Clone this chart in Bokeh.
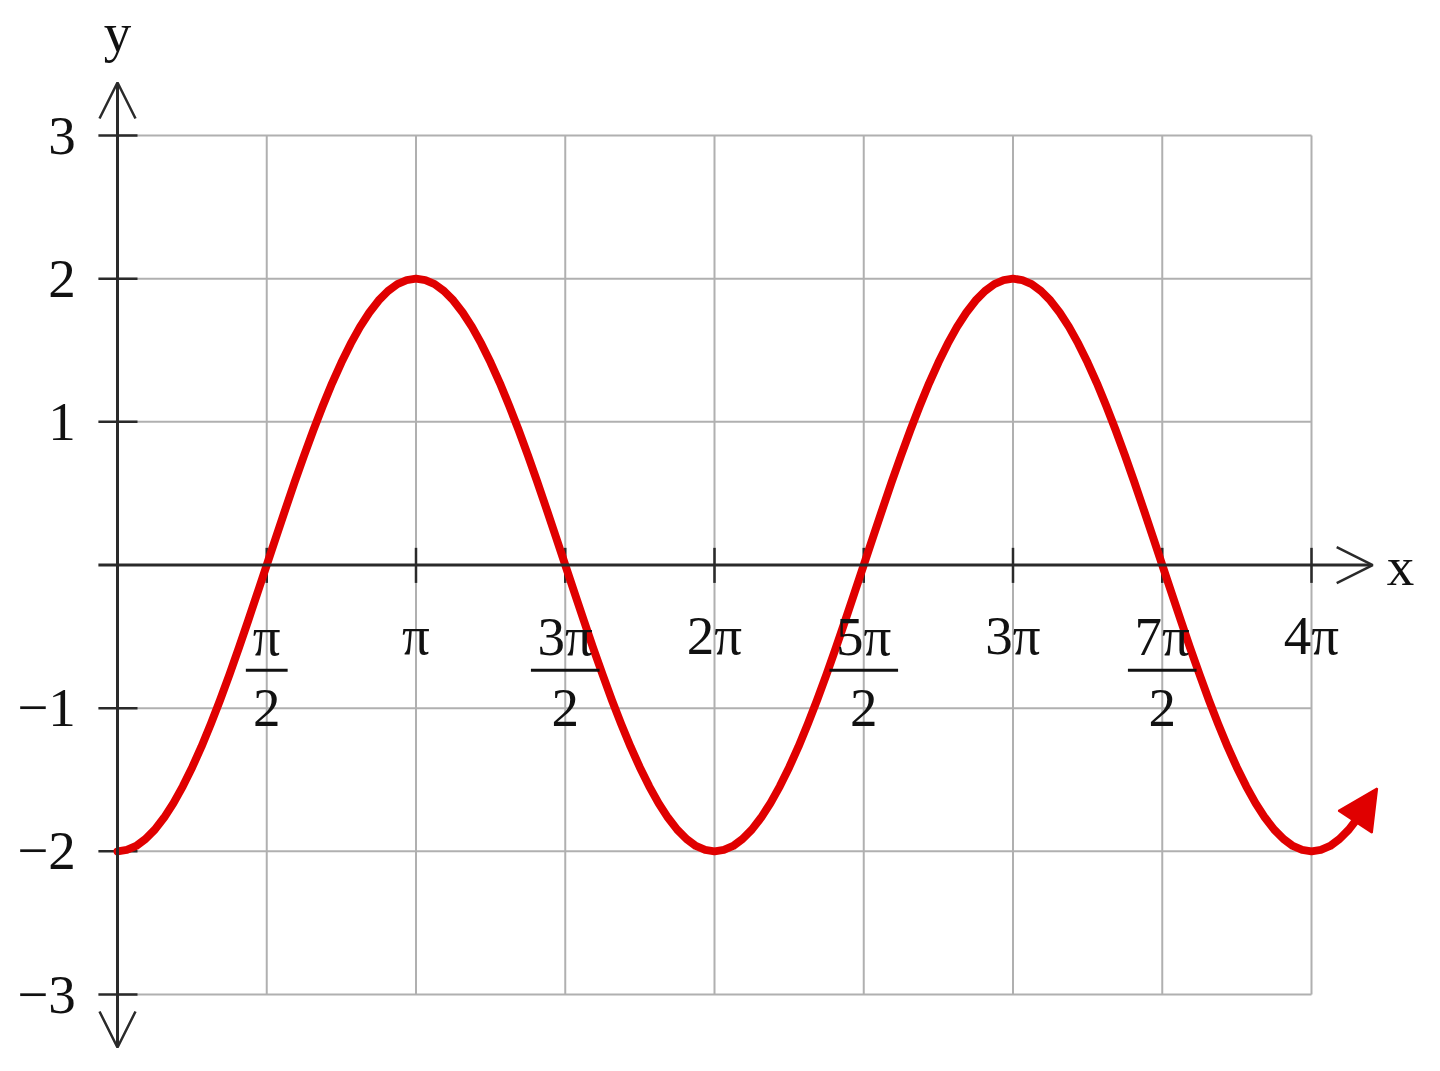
from bokeh.plotting import figure
from bokeh.models import Arrow, NormalHead, OpenHead, Range1d
from bokeh.core.properties import value
from bokeh.embed import file_html
from bokeh.resources import INLINE

# ---- data (x in units of pi), curve y = values ----
curve_x = [
    0, 0.03125, 0.0625, 0.09375, 0.125, 0.15625, 0.1875, 0.21875,
    0.25, 0.28125, 0.3125, 0.34375, 0.375, 0.40625, 0.4375, 0.46875,
    0.5, 0.53125, 0.5625, 0.59375, 0.625, 0.65625, 0.6875, 0.71875,
    0.75, 0.78125, 0.8125, 0.84375, 0.875, 0.90625, 0.9375, 0.96875,
    1.0, 1.03125, 1.0625, 1.09375, 1.125, 1.15625, 1.1875, 1.21875,
    1.25, 1.28125, 1.3125, 1.34375, 1.375, 1.40625, 1.4375, 1.46875,
    1.5, 1.53125, 1.5625, 1.59375, 1.625, 1.65625, 1.6875, 1.71875,
    1.75, 1.78125, 1.8125, 1.84375, 1.875, 1.90625, 1.9375, 1.96875,
    2.0, 2.03125, 2.0625, 2.09375, 2.125, 2.15625, 2.1875, 2.21875,
    2.25, 2.28125, 2.3125, 2.34375, 2.375, 2.40625, 2.4375, 2.46875,
    2.5, 2.53125, 2.5625, 2.59375, 2.625, 2.65625, 2.6875, 2.71875,
    2.75, 2.78125, 2.8125, 2.84375, 2.875, 2.90625, 2.9375, 2.96875,
    3.0, 3.03125, 3.0625, 3.09375, 3.125, 3.15625, 3.1875, 3.21875,
    3.25, 3.28125, 3.3125, 3.34375, 3.375, 3.40625, 3.4375, 3.46875,
    3.5, 3.53125, 3.5625, 3.59375, 3.625, 3.65625, 3.6875, 3.71875,
    3.75, 3.78125, 3.8125, 3.84375, 3.875, 3.90625, 3.9375, 3.96875,
    4.0, 4.03125, 4.0625, 4.09375, 4.125, 4.15625, 4.1875,
]
curve_y = [
    -2, -1.990, -1.962, -1.914, -1.848, -1.764, -1.663, -1.546,
    -1.414, -1.269, -1.111, -0.943, -0.765, -0.581, -0.390, -0.196,
    0, 0.196, 0.390, 0.581, 0.765, 0.943, 1.111, 1.269,
    1.414, 1.546, 1.663, 1.764, 1.848, 1.914, 1.962, 1.990,
    2, 1.990, 1.962, 1.914, 1.848, 1.764, 1.663, 1.546,
    1.414, 1.269, 1.111, 0.943, 0.765, 0.581, 0.390, 0.196,
    0, -0.196, -0.390, -0.581, -0.765, -0.943, -1.111, -1.269,
    -1.414, -1.546, -1.663, -1.764, -1.848, -1.914, -1.962, -1.990,
    -2, -1.990, -1.962, -1.914, -1.848, -1.764, -1.663, -1.546,
    -1.414, -1.269, -1.111, -0.943, -0.765, -0.581, -0.390, -0.196,
    0, 0.196, 0.390, 0.581, 0.765, 0.943, 1.111, 1.269,
    1.414, 1.546, 1.663, 1.764, 1.848, 1.914, 1.962, 1.990,
    2, 1.990, 1.962, 1.914, 1.848, 1.764, 1.663, 1.546,
    1.414, 1.269, 1.111, 0.943, 0.765, 0.581, 0.390, 0.196,
    0, -0.196, -0.390, -0.581, -0.765, -0.943, -1.111, -1.269,
    -1.414, -1.546, -1.663, -1.764, -1.848, -1.914, -1.962, -1.990,
    -2, -1.990, -1.962, -1.914, -1.848, -1.764, -1.663,
]
arrow_tip = (4.22, -1.56)

x_grid = [0.5, 1, 1.5, 2, 2.5, 3, 3.5, 4]
y_grid = [-3, -2, -1, 1, 2, 3]
y_tick_labels = ["3", "2", "1", "\u22121", "\u22122", "\u22123"]
y_tick_values = [3, 2, 1, -1, -2, -3]

whole_ticks = [1, 2, 3, 4]
whole_labels = ["\u03c0", "2\u03c0", "3\u03c0", "4\u03c0"]
frac_ticks = [0.5, 1.5, 2.5, 3.5]
frac_numerators = ["\u03c0", "3\u03c0", "5\u03c0", "7\u03c0"]
frac_denominators = ["2", "2", "2", "2"]

x_min, x_max = 0, 4
y_min, y_max = -3, 3
y_axis_reach = 3.37
x_axis_start, x_axis_end = -0.064, 4.205

# ---- figure ----
W, H = 1424, 1055
SX, SY = 298.5, 143.17          # px per pi unit, px per y unit
X0 = -117 / SX
Y1 = 3 + 135 / SY
p = figure(width=W, height=H, output_backend="svg", toolbar_location=None,
           x_range=Range1d(X0, X0 + W / SX),
           y_range=Range1d(Y1 - H / SY, Y1),
           min_border=0)
p.axis.visible = False
p.grid.visible = False
p.outline_line_color = None
p.background_fill_color = "white"
p.border_fill_color = "white"

grid_color = "#b0b0b0"
axis_color = "#2a2a2a"
text_color = "#111111"
font = value("Liberation Serif")
fs = "55px"

# grid
p.segment(x0=x_grid, y0=[y_min] * len(x_grid), x1=x_grid, y1=[y_max] * len(x_grid),
          line_color=grid_color, line_width=2)
p.segment(x0=[x_min] * len(y_grid), y0=y_grid, x1=[x_max] * len(y_grid), y1=y_grid,
          line_color=grid_color, line_width=2)

# tick marks
p.segment(x0=[-0.064] * len(y_grid), y0=y_grid, x1=[0.067] * len(y_grid), y1=y_grid,
          line_color=axis_color, line_width=2.5)
p.segment(x0=x_grid, y0=[0.12] * len(x_grid), x1=x_grid, y1=[-0.125] * len(x_grid),
          line_color=axis_color, line_width=2.5)

# axes with arrows
p.add_layout(Arrow(start=OpenHead(size=36, line_width=2.5, line_color=axis_color),
                   end=OpenHead(size=36, line_width=2.5, line_color=axis_color),
                   x_start=0, y_start=-y_axis_reach, x_end=0, y_end=y_axis_reach,
                   line_color=axis_color, line_width=3))
p.add_layout(Arrow(end=OpenHead(size=36, line_width=2.5, line_color=axis_color),
                   x_start=x_axis_start, y_start=0, x_end=x_axis_end, y_end=0,
                   line_color=axis_color, line_width=3))

# curve
red = "#e00000"
p.line(curve_x, curve_y, line_color=red, line_width=8, line_join="round", line_cap="round")
p.add_layout(Arrow(end=NormalHead(size=40, fill_color=red, line_color=red, line_width=2),
                   x_start=curve_x[-1], y_start=curve_y[-1],
                   x_end=arrow_tip[0], y_end=arrow_tip[1],
                   line_color=red, line_width=8))

# y tick labels
p.text(x=[-0.14] * len(y_tick_values), y=y_tick_values, text=y_tick_labels,
       text_font=font, text_font_size=fs, text_color=text_color,
       text_align="right", text_baseline="middle")

# x tick labels (whole multiples)
p.text(x=whole_ticks, y=[-0.49] * len(whole_ticks), text=whole_labels,
       text_font=font, text_font_size=fs, text_color=text_color,
       text_align="center", text_baseline="middle")

# fractions
p.text(x=frac_ticks, y=[-0.5] * len(frac_ticks), text=frac_numerators,
       text_font=font, text_font_size=fs, text_color=text_color,
       text_align="center", text_baseline="middle")
p.text(x=frac_ticks, y=[-1.0] * len(frac_ticks), text=frac_denominators,
       text_font=font, text_font_size=fs, text_color=text_color,
       text_align="center", text_baseline="middle")
half = [0.07 if len(s) == 1 else 0.115 for s in frac_numerators]
p.segment(x0=[t - h for t, h in zip(frac_ticks, half)], y0=[-0.735] * len(frac_ticks),
          x1=[t + h for t, h in zip(frac_ticks, half)], y1=[-0.735] * len(frac_ticks),
          line_color=text_color, line_width=3)

# axis names
p.text(x=[4.298], y=[-0.01], text=["x"], text_font=font, text_font_size=fs,
       text_color=text_color, text_align="center", text_baseline="middle")
p.text(x=[0.0], y=[3.72], text=["y"], text_font=font, text_font_size=fs,
       text_color=text_color, text_align="center", text_baseline="middle")

open("out.html", "w").write(file_html(p, INLINE))
